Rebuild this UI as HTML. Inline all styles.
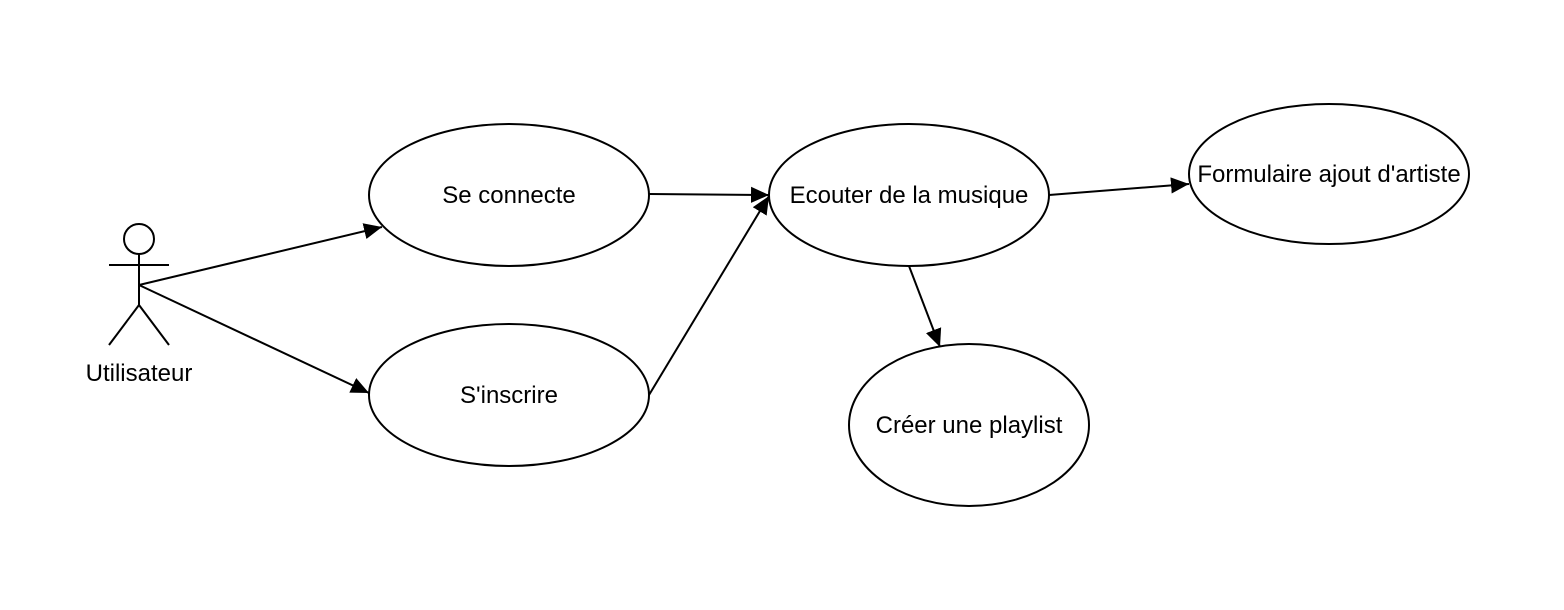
<!DOCTYPE html>
<html><head><meta charset="utf-8"><style>
html,body{margin:0;padding:0;background:#fff;}
svg{display:block;}
text{font-family:"Liberation Sans",Helvetica,Arial,sans-serif;font-size:24px;fill:#000;}
</style></head><body>
<svg width="1564" height="610" viewBox="0 0 1564 610" xmlns="http://www.w3.org/2000/svg">
<defs>
<marker id="a" viewBox="0 0 10 10" refX="10" refY="5" markerWidth="18" markerHeight="18" markerUnits="userSpaceOnUse" orient="auto">
<path d="M0,0.5 L10,5 L0,9.5 Z" fill="#000"/>
</marker>
</defs>
<g fill="#fff" stroke="#000" stroke-width="2">
<ellipse cx="509" cy="195" rx="140" ry="71"/>
<ellipse cx="509" cy="395" rx="140" ry="71"/>
<ellipse cx="909" cy="195" rx="140" ry="71"/>
<ellipse cx="1329" cy="174" rx="140" ry="70"/>
<ellipse cx="969" cy="425" rx="120" ry="81"/>
</g>
<g fill="none" stroke="#000" stroke-width="2">
<circle cx="139" cy="239" r="15" fill="#fff"/>
<line x1="139" y1="254" x2="139" y2="305"/>
<line x1="109" y1="265" x2="169" y2="265"/>
<line x1="139" y1="305" x2="109" y2="345"/>
<line x1="139" y1="305" x2="169" y2="345"/>
</g>
<g stroke="#000" stroke-width="2" fill="none" marker-end="url(#a)">
<line x1="139" y1="285" x2="382" y2="227"/>
<line x1="139" y1="285" x2="369" y2="393"/>
<line x1="649" y1="194" x2="769" y2="195"/>
<line x1="649" y1="395" x2="769" y2="196"/>
<line x1="1049" y1="195" x2="1189" y2="184"/>
<line x1="909" y1="266" x2="940" y2="347"/>
</g>
<g text-anchor="middle">
<text x="139" y="381">Utilisateur</text>
<text x="509" y="203">Se connecte</text>
<text x="509" y="403">S'inscrire</text>
<text x="909" y="203">Ecouter de la musique</text>
<text x="1329" y="182">Formulaire ajout d'artiste</text>
<text x="969" y="433">Créer une playlist</text>
</g>
</svg>
</body></html>
